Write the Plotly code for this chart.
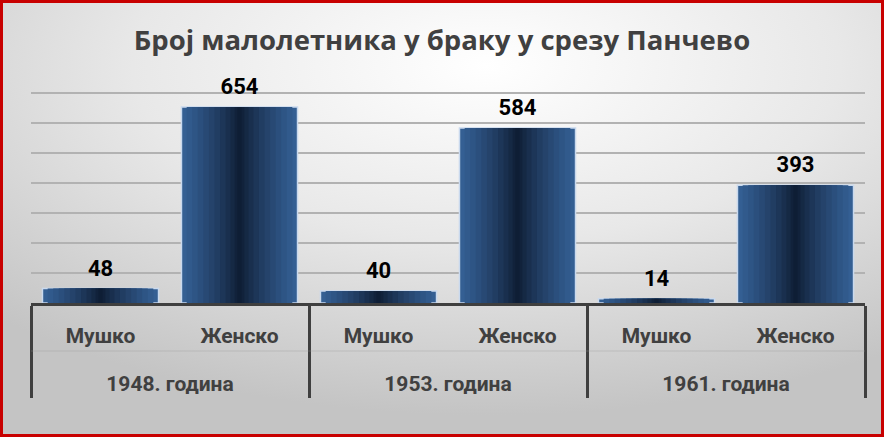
import base64
import plotly.graph_objects as go

# ---- data ----
years = ["1948. година", "1953. година", "1961. година"]
genders = ["Мушко", "Женско"]
values = [48, 654, 40, 584, 14, 393]
title_text = "Број малолетника у браку у срезу Панчево"

x_years = [y for y in years for _ in genders]
x_genders = [g + "<br><span style='font-size:48px'> </span>" for _ in years for g in genders]

W, H = 884, 437
ML, MR, MT, MB = 31, 19, 91, 134
PW, PH = W - ML - MR, H - MT - MB
FONT = "Roboto"

fig = go.Figure()

# bar "gradient": overlaid bars of shrinking width, light edges -> dark centre
stripes = [
    (0.835, "#345f93"),
    (0.76, "#315a8c"),
    (0.68, "#2e5585"),
    (0.60, "#2b4f7d"),
    (0.52, "#284974"),
    (0.44, "#25436b"),
    (0.36, "#213d62"),
    (0.28, "#1d3658"),
    (0.20, "#192f4e"),
    (0.13, "#152944"),
    (0.07, "#11223b"),
    (0.03, "#0e1e35"),
]
for i, (w, c) in enumerate(stripes):
    first = i == 0
    fig.add_trace(go.Bar(
        x=[x_years, x_genders], y=values, width=w,
        marker=dict(color=c, line=dict(color="#c9d9ee" if first else c, width=1.5 if first else 0)),
        showlegend=False, hoverinfo="skip",
    ))

# data labels
fig.add_trace(go.Scatter(
    x=[x_years, x_genders], y=values, mode="markers+text",
    text=[str(v) for v in values], textposition="top center",
    marker=dict(size=10, opacity=0),
    textfont=dict(family=FONT, size=22, color="#000000", weight="bold"),
    cliponaxis=False, showlegend=False, hoverinfo="skip",
))

# background radial gradient (svg)
svg = f'''<svg xmlns="http://www.w3.org/2000/svg" width="{W}" height="{H}" viewBox="0 0 {W} {H}" preserveAspectRatio="none">
<defs><radialGradient id="g" cx="0.55" cy="0.15" r="0.8" gradientUnits="objectBoundingBox">
<stop offset="0" stop-color="#ffffff"/><stop offset="0.5" stop-color="#e8e8e8"/><stop offset="1" stop-color="#c4c4c4"/>
</radialGradient></defs><rect width="{W}" height="{H}" fill="url(#g)"/></svg>'''
src = "data:image/svg+xml;base64," + base64.b64encode(svg.encode()).decode()

fig.update_layout(
    width=W, height=H,
    margin=dict(l=ML, r=MR, t=MT, b=MB, autoexpand=False),
    paper_bgcolor="rgba(0,0,0,0)", plot_bgcolor="rgba(0,0,0,0)",
    barmode="overlay",
    title=dict(text=title_text, x=0.5, xanchor="center", y=1 - 40 / H, yanchor="middle",
               font=dict(family="Open Sans", size=27.5, color="#404040", weight="bold")),
    images=[dict(source=src, xref="paper", yref="paper", x=-ML / PW, y=1 + MT / PH,
                 sizex=W / PW, sizey=H / PH, sizing="stretch", layer="below",
                 xanchor="left", yanchor="top")],
    xaxis=dict(type="multicategory", automargin=False, showline=True, linecolor="#3f3f3f", linewidth=2.5,
               ticks="", ticklabelstandoff=12,
               showdividers=True, dividercolor="#3f3f3f", dividerwidth=2.5,
               tickfont=dict(family=FONT, size=21, color="#404040", weight="bold"),
               showgrid=False),
    yaxis=dict(range=[0, 707], dtick=100, showticklabels=False, showline=False, automargin=False,
               gridcolor="#b2b2b2", gridwidth=1.5, zeroline=False),
    shapes=[
        dict(type="line", xref="paper", yref="paper", x0=0, x1=1,
             y0=-(48 / PH), y1=-(48 / PH), line=dict(color="rgba(150,150,150,0.35)", width=1)),
        dict(type="rect", xref="paper", yref="paper",
             x0=(-ML + 1.5) / PW, x1=1 + (MR - 1.5) / PW,
             y0=-(MB - 1.5) / PH, y1=1 + (MT - 1.5) / PH,
             line=dict(color="#c80000", width=3)),
    ],
)

fig.write_html("out.html", config={"displayModeBar": False},
               post_script="document.body.style.margin='0';")
